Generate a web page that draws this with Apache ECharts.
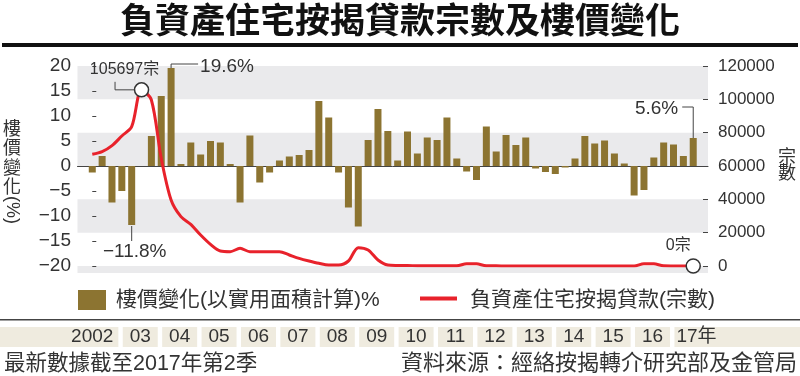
<!DOCTYPE html>
<html lang="zh-Hant">
<head>
<meta charset="UTF-8">
<title>負資產住宅按揭貸款宗數及樓價變化</title>
<script src="https://cdn.jsdelivr.net/npm/echarts@6/dist/echarts.min.js"></script>
<style>
  html, body { margin: 0; padding: 0; background: #fff; }
  #chart { width: 800px; height: 376px; }
</style>
</head>
<body>
<div id="chart"></div>
<script>
// 年份條
var yearLabels = ['2002', '03', '04', '05', '06', '07', '08', '09', '10', '11', '12', '13', '14', '15', '16', '17年'];

// 樓價變化(%)，2002年第1季 至 2017年第2季
var priceChange = [
  -1.3, 2.0, -7.3, -5.0, -11.8, 0, 6.0, 14.0, 19.6, 0.4,
  4.7, 2.3, 5.0, 4.7, 0.4, -7.3, 6.1, -3.3, -1.3, 1.1,
  1.9, 2.2, 3.2, 13.0, 9.7, -1.3, -8.3, -12.1, 5.2, 11.4,
  7.0, 1.1, 6.9, 2.5, 5.7, 5.2, 9.7, 1.5, -1.1, -2.8,
  7.9, 2.9, 6.2, 4.2, 5.7, -0.5, -1.2, -1.6, -0.3, 1.5,
  6.0, 4.5, 5.1, 2.5, 0.5, -5.9, -4.8, 1.7, 4.7, 4.3,
  2.0, 5.6
];

// 負資產住宅按揭貸款(宗數)
var negEquity = [
  67000, 68600, 72200, 78000, 83600, 105697, 99600, 64600, 39600, 29600,
  25000, 18600, 13000, 9000, 8600, 10600, 8600, 8600, 8600, 8600,
  6600, 4600, 3000, 1600, 600, 600, 3000, 11000, 9600, 3600,
  600, 300, 250, 200, 150, 150, 100, 100, 1400, 1300,
  100, 80, 60, 50, 40, 30, 30, 20, 20, 20,
  20, 10, 10, 10, 10, 20, 1400, 1300, 100, 50,
  20, 0
];

// 季度
var quarters = [];
for (var y = 2002; y <= 2017; y++) {
  for (var q = 1; q <= 4; q++) {
    if (quarters.length < priceChange.length) quarters.push(y + 'Q' + q);
  }
}

var FONT = "'Liberation Sans', 'Noto Sans CJK TC', sans-serif";
var CJK = "'Noto Sans CJK TC', sans-serif";
var OLIVE = '#8C7431';
var RED = '#E8222B';
var BAND = '#EAEAEC';
var STRIP = '#EFEBDF';
var INK = '#333333';

var chart = echarts.init(document.getElementById('chart'));

chart.setOption({
  animation: false,
  backgroundColor: '#fff',
  title: {
    text: '負資產住宅按揭貸款宗數及樓價變化',
    left: 'center',
    top: 2,
    padding: 0,
    textStyle: { fontFamily: CJK, fontSize: 35, fontWeight: 'bold', color: '#111' }
  },
  grid: { left: 77.5, right: 92, top: 66, bottom: 110 },
  xAxis: {
    type: 'value',
    min: -1.5,
    max: quarters.length + 0.5,
    axisLine: { show: true, onZero: true, onZeroAxisIndex: 0, lineStyle: { color: '#444', width: 1 } },
    axisTick: { show: false },
    axisLabel: { show: false },
    splitLine: { show: false }
  },
  yAxis: [{
    type: 'value',
    min: -20, max: 20, interval: 5,
    axisLine: { show: false },
    axisTick: { show: true, inside: true, length: 4, lineStyle: { color: '#444' } },
    axisLabel: {
      margin: 6.5, color: INK, fontFamily: FONT, fontSize: 19,
      formatter: function (v) { return v < 0 ? '\u2212' + (-v) : String(v); }
    },
    splitLine: { show: false }
  }, {
    type: 'value',
    min: 0, max: 120000, interval: 20000,
    axisLine: { show: false },
    axisTick: { show: true, inside: true, length: 5, lineStyle: { color: '#444' } },
    axisLabel: {
      margin: 10, color: INK, fontFamily: FONT, fontSize: 17,
      formatter: function (v) { return String(v); }
    },
    splitLine: { show: false },
    splitArea: { show: true, areaStyle: { color: ['rgba(255,255,255,0)', BAND] } }
  }],
  series: [{
    name: '樓價變化(以實用面積計算)%',
    type: 'bar',
    yAxisIndex: 0,
    barWidth: 7,
    itemStyle: { color: OLIVE },
    data: priceChange.map(function (v, i) { return [i, v]; })
  }, {
    name: '負資產住宅按揭貸款(宗數)',
    type: 'line',
    yAxisIndex: 1,
    smooth: 0.3,
    showSymbol: false,
    lineStyle: { color: RED, width: 3 },
    z: 3,
    data: negEquity.map(function (v, i) { return [i, v]; }),
    markPoint: {
      symbol: 'circle',
      symbolSize: 14,
      itemStyle: { color: '#fff', borderColor: '#333', borderWidth: 1.5 },
      label: { show: false },
      data: [
        { coord: [5, negEquity[5]] },
        { coord: [negEquity.length - 1, negEquity[negEquity.length - 1]] }
      ]
    }
  }]
});

function px(x, v, yi) {
  return chart.convertToPixel({ xAxisIndex: 0, yAxisIndex: yi }, [x, v]);
}
function txt(x, y, s, size, align, vAlign, extra) {
  var el = {
    type: 'text', x: x, y: y, z: 20,
    style: {
      text: s, fill: INK, font: size + 'px ' + FONT,
      textAlign: align || 'left', textVerticalAlign: vAlign || 'middle'
    }
  };
  if (extra) for (var k in extra) el[k] = extra[k];
  return el;
}
function line(points, w, color) {
  return { type: 'polyline', z: 19, shape: { points: points }, style: { stroke: color || '#444', lineWidth: w || 1, fill: null } };
}
function fmtPct(v) { return (v < 0 ? '\u2212' + (-v) : String(v)) + '%'; }

var g = [];
var last = priceChange.length - 1;
var plotL = px(-1.5, 0, 0)[0], plotR = px(quarters.length + 0.5, 0, 0)[0];
var yZeroR = px(0, 0, 1)[1];

// 標題下粗線
g.push({ type: 'rect', shape: { x: 2, y: 43, width: 796, height: 4 }, style: { fill: '#111' } });
// 圖表底部灰條
g.push({ type: 'rect', z: -1, shape: { x: plotL, y: yZeroR, width: plotR - plotL, height: 7 }, style: { fill: BAND } });

// 軸標題
var lt = txt(12, 118, '樓\n價\n變\n化', 18, 'center', 'top');
lt.style.lineHeight = 19.5;
lt.style.font = '18px ' + CJK;
g.push(lt);
g.push(txt(12, 210, '(%)', 18, 'center', 'middle', { rotation: -Math.PI / 2 }));
var rt = txt(787, 164, '宗\n數', 18, 'center', 'middle');
rt.style.lineHeight = 16;
rt.style.font = '18px ' + CJK;
g.push(rt);

// 註釋：最高宗數
var peak = px(5, negEquity[5], 1);
g.push(line([[peak[0] - 26.5, peak[1] - 8], [peak[0] - 26.5, peak[1]], [peak[0] - 7, peak[1]]]));
g.push(txt(peak[0] - 17, peak[1] - 20, negEquity[5] + '宗', 16, 'center'));

// 註釋：19.6%
var hi = px(8, priceChange[8], 0);
g.push(line([[hi[0], hi[1]], [hi[0], hi[1] - 4], [hi[0] + 27, hi[1] - 4]]));
g.push(txt(hi[0] + 29, hi[1] - 1, fmtPct(priceChange[8]), 19, 'left'));

// 註釋：-11.8%
var lo = px(4, priceChange[4], 0);
g.push(line([[lo[0], lo[1] + 1], [lo[0], lo[1] + 16]]));
g.push(txt(lo[0] + 3, lo[1] + 27, fmtPct(priceChange[4]), 19, 'center'));

// 註釋：5.6%
var end = px(last, priceChange[last], 0);
g.push(line([[end[0], end[1]], [end[0], end[1] - 31], [end[0] - 11, end[1] - 31]]));
g.push(txt(end[0] - 15, end[1] - 29, fmtPct(priceChange[last]), 19, 'right'));

// 註釋：0宗
var z0 = px(last, negEquity[last], 1);
g.push(txt(z0[0] - 15, z0[1] - 20, negEquity[last] + '宗', 16, 'center'));

// 圖例
g.push({ type: 'rect', shape: { x: 78, y: 290, width: 28, height: 20 }, style: { fill: OLIVE } });
g.push(txt(116, 300, '樓價變化(以實用面積計算)%', 21, 'left'));
g.push({ type: 'rect', shape: { x: 420, y: 296.5, width: 37, height: 4 }, style: { fill: RED } });
g.push(txt(470, 300, '負資產住宅按揭貸款(宗數)', 21, 'left'));

// 年份條上的線
g.push({ type: 'rect', shape: { x: 0, y: 319, width: 800, height: 1.5 }, style: { fill: '#444' } });

// 年份條
var boxTop = 327, boxH = 20;
for (var k = 0; k < yearLabels.length; k++) {
  var bx0, bx1;
  if (k === 0) {
    bx0 = 0;
    bx1 = px(4 * 1 - 0.5, 0, 0)[0] - 8.4;
  } else {
    var b = px(4 * k - 0.5, 0, 0)[0];
    bx0 = b - 4;
    bx1 = (k === yearLabels.length - 1) ? 800 : b + 31;
  }
  g.push({ type: 'rect', shape: { x: bx0, y: boxTop, width: bx1 - bx0, height: boxH }, style: { fill: STRIP } });
  if (k === 0) g.push(txt(bx1 - 5, boxTop + boxH / 2, yearLabels[k], 19, 'right'));
  else if (k === yearLabels.length - 1) g.push(txt(bx0 + 2, boxTop + boxH / 2, yearLabels[k], 19, 'left'));
  else g.push(txt((bx0 + bx1) / 2, boxTop + boxH / 2, yearLabels[k], 19, 'center'));
}

// 底部說明
g.push(txt(4, 364, '最新數據截至2017年第2季', 21.5, 'left'));
g.push(txt(797, 364, '資料來源：經絡按揭轉介研究部及金管局', 22, 'right'));

chart.setOption({ graphic: g });
</script>
</body>
</html>
